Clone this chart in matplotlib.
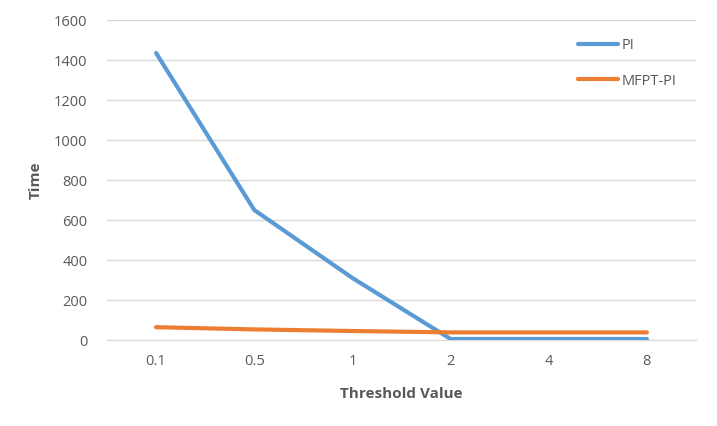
import matplotlib
matplotlib.use("Agg")
import matplotlib.pyplot as plt

categories = ["0.1", "0.5", "1", "2", "4", "8"]
pi_values = [1435, 650, 310, 5, 5, 5]
mfpt_pi_values = [64, 53, 45, 38, 38, 38]

plt.rcParams['font.family'] = ['Open Sans', 'DejaVu Sans']
gray = '#595959'

fig = plt.figure(figsize=(7.17, 4.26), dpi=100)
ax = fig.add_axes([107/717, 1 - 340/426, (696-107)/717, 320/426])

x = list(range(len(categories)))
ax.plot(x, pi_values, color='#5B9BD5', lw=3, label='PI', solid_capstyle='round', zorder=3)
ax.plot(x, mfpt_pi_values, color='#ED7D31', lw=3, label='MFPT-PI', solid_capstyle='round', zorder=3)

ax.set_xlim(-0.5, len(categories) - 0.5)
ax.set_ylim(0, 1600)
ax.set_yticks(range(0, 1601, 200))
ax.set_xticks(x)
ax.set_xticklabels(categories)
ax.grid(axis='y', color='#D9D9D9', lw=1)
ax.set_axisbelow(True)
for s in ['top', 'right', 'left']:
    ax.spines[s].set_visible(False)
ax.spines['bottom'].set_color('#D9D9D9')
ax.tick_params(axis='both', length=0, colors=gray, labelsize=10.5)
ax.tick_params(axis='x', pad=10)
ax.tick_params(axis='y', pad=14)

ax.set_xlabel('Threshold Value', fontsize=11, fontweight='bold', color=gray, labelpad=13)
ax.set_ylabel('Time', fontsize=11, fontweight='bold', color=gray, labelpad=8)

leg = ax.legend(loc='upper left', frameon=False, fontsize=10.5,
                handlelength=2.7, labelspacing=1.4, handletextpad=0.3)
leg.set_bbox_to_anchor(((565-107)/589, (340-25)/320), transform=ax.transAxes)
for t in leg.get_texts():
    t.set_color(gray)

fig.savefig('out.png', dpi=100)
